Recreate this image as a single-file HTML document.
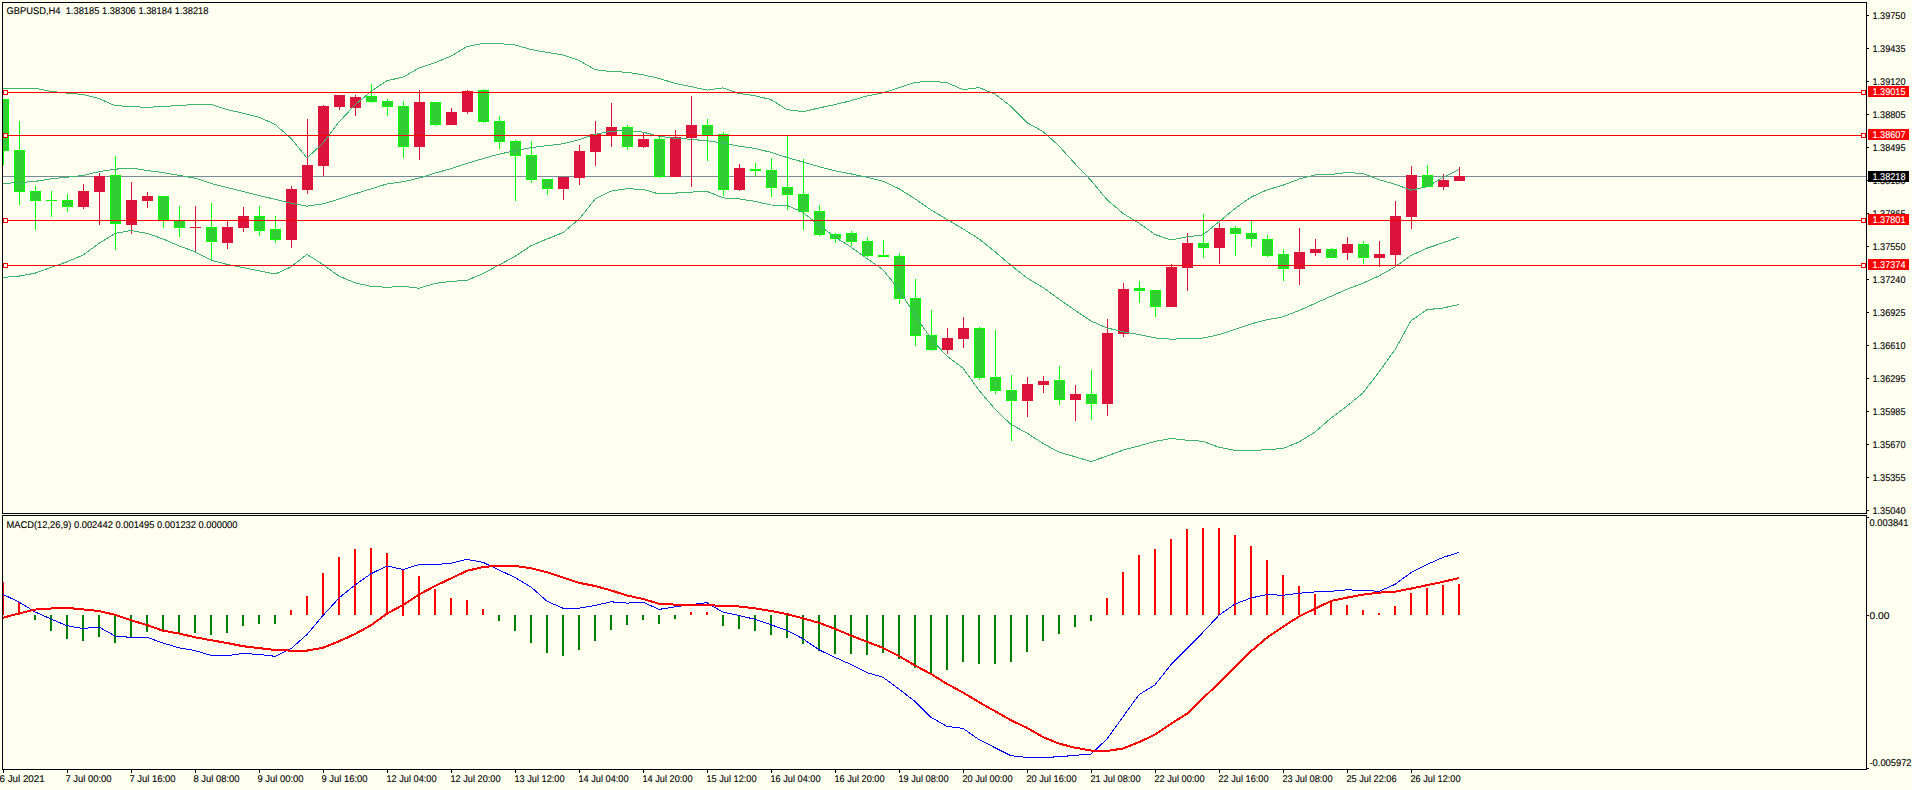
<!DOCTYPE html><html><head><meta charset="utf-8"><style>
html,body{margin:0;padding:0;background:#FFFFF0;width:1912px;height:790px;overflow:hidden}
svg{display:block}
text{font-family:"Liberation Sans", sans-serif;font-size:9.8px;fill:#000;text-rendering:geometricPrecision}
</style></head><body>
<svg width="1912" height="790" viewBox="0 0 1912 790">
<rect x="0" y="0" width="1912" height="790" fill="#FFFFF0"/>
<defs><clipPath id="cm"><rect x="3" y="3" width="1863" height="510"/></clipPath><clipPath id="cd"><rect x="3" y="516" width="1863" height="253"/></clipPath></defs>
<g clip-path="url(#cm)">
<rect x="3" y="176" width="1863" height="1" fill="#778899"/>
<rect x="3" y="99" width="1" height="66" fill="#00FF00"/>
<rect x="-2" y="99" width="11" height="52" fill="#00FF00"/>
<rect x="-1" y="100" width="9" height="50" fill="#32CD32"/>
<rect x="19" y="121" width="1" height="84" fill="#00FF00"/>
<rect x="14" y="150" width="11" height="42" fill="#00FF00"/>
<rect x="15" y="151" width="9" height="40" fill="#32CD32"/>
<rect x="35" y="186" width="1" height="44" fill="#00FF00"/>
<rect x="30" y="191" width="11" height="10" fill="#00FF00"/>
<rect x="31" y="192" width="9" height="8" fill="#32CD32"/>
<rect x="51" y="191" width="1" height="26" fill="#00FF00"/>
<rect x="46" y="200" width="11" height="1" fill="#00FF00"/>
<rect x="67" y="194" width="1" height="18" fill="#00FF00"/>
<rect x="62" y="200" width="11" height="7" fill="#00FF00"/>
<rect x="63" y="201" width="9" height="5" fill="#32CD32"/>
<rect x="83" y="184" width="1" height="25" fill="#DC143C"/>
<rect x="78" y="191" width="11" height="16" fill="#DC143C"/>
<rect x="99" y="173" width="1" height="52" fill="#DC143C"/>
<rect x="94" y="176" width="11" height="16" fill="#DC143C"/>
<rect x="115" y="156" width="1" height="94" fill="#00FF00"/>
<rect x="110" y="175" width="11" height="49" fill="#00FF00"/>
<rect x="111" y="176" width="9" height="47" fill="#32CD32"/>
<rect x="131" y="182" width="1" height="52" fill="#DC143C"/>
<rect x="126" y="200" width="11" height="25" fill="#DC143C"/>
<rect x="147" y="192" width="1" height="16" fill="#DC143C"/>
<rect x="142" y="196" width="11" height="5" fill="#DC143C"/>
<rect x="163" y="196" width="1" height="32" fill="#00FF00"/>
<rect x="158" y="196" width="11" height="24" fill="#00FF00"/>
<rect x="159" y="197" width="9" height="22" fill="#32CD32"/>
<rect x="179" y="206" width="1" height="31" fill="#00FF00"/>
<rect x="174" y="220" width="11" height="8" fill="#00FF00"/>
<rect x="175" y="221" width="9" height="6" fill="#32CD32"/>
<rect x="195" y="206" width="1" height="45" fill="#DC143C"/>
<rect x="190" y="227" width="11" height="1" fill="#DC143C"/>
<rect x="211" y="203" width="1" height="58" fill="#00FF00"/>
<rect x="206" y="227" width="11" height="15" fill="#00FF00"/>
<rect x="207" y="228" width="9" height="13" fill="#32CD32"/>
<rect x="227" y="221" width="1" height="28" fill="#DC143C"/>
<rect x="222" y="227" width="11" height="16" fill="#DC143C"/>
<rect x="243" y="207" width="1" height="25" fill="#DC143C"/>
<rect x="238" y="216" width="11" height="12" fill="#DC143C"/>
<rect x="259" y="206" width="1" height="30" fill="#00FF00"/>
<rect x="254" y="216" width="11" height="15" fill="#00FF00"/>
<rect x="255" y="217" width="9" height="13" fill="#32CD32"/>
<rect x="275" y="216" width="1" height="27" fill="#00FF00"/>
<rect x="270" y="229" width="11" height="11" fill="#00FF00"/>
<rect x="271" y="230" width="9" height="9" fill="#32CD32"/>
<rect x="291" y="186" width="1" height="62" fill="#DC143C"/>
<rect x="286" y="189" width="11" height="51" fill="#DC143C"/>
<rect x="307" y="119" width="1" height="75" fill="#DC143C"/>
<rect x="302" y="165" width="11" height="25" fill="#DC143C"/>
<rect x="323" y="105" width="1" height="71" fill="#DC143C"/>
<rect x="318" y="106" width="11" height="60" fill="#DC143C"/>
<rect x="339" y="95" width="1" height="15" fill="#DC143C"/>
<rect x="334" y="95" width="11" height="12" fill="#DC143C"/>
<rect x="355" y="95" width="1" height="21" fill="#DC143C"/>
<rect x="350" y="97" width="11" height="11" fill="#DC143C"/>
<rect x="371" y="84" width="1" height="19" fill="#00FF00"/>
<rect x="366" y="96" width="11" height="6" fill="#00FF00"/>
<rect x="367" y="97" width="9" height="4" fill="#32CD32"/>
<rect x="387" y="99" width="1" height="17" fill="#00FF00"/>
<rect x="382" y="101" width="11" height="6" fill="#00FF00"/>
<rect x="383" y="102" width="9" height="4" fill="#32CD32"/>
<rect x="403" y="101" width="1" height="57" fill="#00FF00"/>
<rect x="398" y="106" width="11" height="41" fill="#00FF00"/>
<rect x="399" y="107" width="9" height="39" fill="#32CD32"/>
<rect x="419" y="90" width="1" height="70" fill="#DC143C"/>
<rect x="414" y="102" width="11" height="45" fill="#DC143C"/>
<rect x="435" y="102" width="1" height="24" fill="#00FF00"/>
<rect x="430" y="102" width="11" height="23" fill="#00FF00"/>
<rect x="431" y="103" width="9" height="21" fill="#32CD32"/>
<rect x="451" y="108" width="1" height="17" fill="#DC143C"/>
<rect x="446" y="112" width="11" height="13" fill="#DC143C"/>
<rect x="467" y="90" width="1" height="24" fill="#DC143C"/>
<rect x="462" y="91" width="11" height="21" fill="#DC143C"/>
<rect x="483" y="89" width="1" height="34" fill="#00FF00"/>
<rect x="478" y="90" width="11" height="32" fill="#00FF00"/>
<rect x="479" y="91" width="9" height="30" fill="#32CD32"/>
<rect x="499" y="116" width="1" height="33" fill="#00FF00"/>
<rect x="494" y="121" width="11" height="21" fill="#00FF00"/>
<rect x="495" y="122" width="9" height="19" fill="#32CD32"/>
<rect x="515" y="140" width="1" height="61" fill="#00FF00"/>
<rect x="510" y="141" width="11" height="15" fill="#00FF00"/>
<rect x="511" y="142" width="9" height="13" fill="#32CD32"/>
<rect x="531" y="141" width="1" height="42" fill="#00FF00"/>
<rect x="526" y="155" width="11" height="25" fill="#00FF00"/>
<rect x="527" y="156" width="9" height="23" fill="#32CD32"/>
<rect x="547" y="179" width="1" height="16" fill="#00FF00"/>
<rect x="542" y="179" width="11" height="10" fill="#00FF00"/>
<rect x="543" y="180" width="9" height="8" fill="#32CD32"/>
<rect x="563" y="177" width="1" height="23" fill="#DC143C"/>
<rect x="558" y="177" width="11" height="12" fill="#DC143C"/>
<rect x="579" y="145" width="1" height="40" fill="#DC143C"/>
<rect x="574" y="151" width="11" height="27" fill="#DC143C"/>
<rect x="595" y="121" width="1" height="45" fill="#DC143C"/>
<rect x="590" y="134" width="11" height="18" fill="#DC143C"/>
<rect x="611" y="103" width="1" height="44" fill="#DC143C"/>
<rect x="606" y="127" width="11" height="8" fill="#DC143C"/>
<rect x="627" y="125" width="1" height="25" fill="#00FF00"/>
<rect x="622" y="127" width="11" height="20" fill="#00FF00"/>
<rect x="623" y="128" width="9" height="18" fill="#32CD32"/>
<rect x="643" y="133" width="1" height="15" fill="#DC143C"/>
<rect x="638" y="139" width="11" height="8" fill="#DC143C"/>
<rect x="659" y="136" width="1" height="42" fill="#00FF00"/>
<rect x="654" y="139" width="11" height="38" fill="#00FF00"/>
<rect x="655" y="140" width="9" height="36" fill="#32CD32"/>
<rect x="675" y="130" width="1" height="47" fill="#DC143C"/>
<rect x="670" y="137" width="11" height="40" fill="#DC143C"/>
<rect x="691" y="96" width="1" height="91" fill="#DC143C"/>
<rect x="686" y="125" width="11" height="13" fill="#DC143C"/>
<rect x="707" y="119" width="1" height="42" fill="#00FF00"/>
<rect x="702" y="125" width="11" height="10" fill="#00FF00"/>
<rect x="703" y="126" width="9" height="8" fill="#32CD32"/>
<rect x="723" y="132" width="1" height="64" fill="#00FF00"/>
<rect x="718" y="134" width="11" height="56" fill="#00FF00"/>
<rect x="719" y="135" width="9" height="54" fill="#32CD32"/>
<rect x="739" y="164" width="1" height="27" fill="#DC143C"/>
<rect x="734" y="168" width="11" height="22" fill="#DC143C"/>
<rect x="755" y="163" width="1" height="13" fill="#00FF00"/>
<rect x="750" y="169" width="11" height="2" fill="#00FF00"/>
<rect x="771" y="158" width="1" height="39" fill="#00FF00"/>
<rect x="766" y="170" width="11" height="18" fill="#00FF00"/>
<rect x="767" y="171" width="9" height="16" fill="#32CD32"/>
<rect x="787" y="135" width="1" height="75" fill="#00FF00"/>
<rect x="782" y="187" width="11" height="8" fill="#00FF00"/>
<rect x="783" y="188" width="9" height="6" fill="#32CD32"/>
<rect x="803" y="159" width="1" height="71" fill="#00FF00"/>
<rect x="798" y="194" width="11" height="18" fill="#00FF00"/>
<rect x="799" y="195" width="9" height="16" fill="#32CD32"/>
<rect x="819" y="205" width="1" height="31" fill="#00FF00"/>
<rect x="814" y="211" width="11" height="24" fill="#00FF00"/>
<rect x="815" y="212" width="9" height="22" fill="#32CD32"/>
<rect x="835" y="233" width="1" height="10" fill="#00FF00"/>
<rect x="830" y="234" width="11" height="5" fill="#00FF00"/>
<rect x="831" y="235" width="9" height="3" fill="#32CD32"/>
<rect x="851" y="231" width="1" height="15" fill="#00FF00"/>
<rect x="846" y="233" width="11" height="9" fill="#00FF00"/>
<rect x="847" y="234" width="9" height="7" fill="#32CD32"/>
<rect x="867" y="237" width="1" height="20" fill="#00FF00"/>
<rect x="862" y="241" width="11" height="15" fill="#00FF00"/>
<rect x="863" y="242" width="9" height="13" fill="#32CD32"/>
<rect x="883" y="240" width="1" height="17" fill="#00FF00"/>
<rect x="878" y="255" width="11" height="2" fill="#00FF00"/>
<rect x="899" y="253" width="1" height="51" fill="#00FF00"/>
<rect x="894" y="256" width="11" height="43" fill="#00FF00"/>
<rect x="895" y="257" width="9" height="41" fill="#32CD32"/>
<rect x="915" y="279" width="1" height="67" fill="#00FF00"/>
<rect x="910" y="298" width="11" height="38" fill="#00FF00"/>
<rect x="911" y="299" width="9" height="36" fill="#32CD32"/>
<rect x="931" y="310" width="1" height="41" fill="#00FF00"/>
<rect x="926" y="335" width="11" height="15" fill="#00FF00"/>
<rect x="927" y="336" width="9" height="13" fill="#32CD32"/>
<rect x="947" y="328" width="1" height="26" fill="#DC143C"/>
<rect x="942" y="338" width="11" height="12" fill="#DC143C"/>
<rect x="963" y="317" width="1" height="31" fill="#DC143C"/>
<rect x="958" y="328" width="11" height="11" fill="#DC143C"/>
<rect x="979" y="327" width="1" height="53" fill="#00FF00"/>
<rect x="974" y="328" width="11" height="50" fill="#00FF00"/>
<rect x="975" y="329" width="9" height="48" fill="#32CD32"/>
<rect x="995" y="330" width="1" height="64" fill="#00FF00"/>
<rect x="990" y="377" width="11" height="14" fill="#00FF00"/>
<rect x="991" y="378" width="9" height="12" fill="#32CD32"/>
<rect x="1011" y="375" width="1" height="66" fill="#00FF00"/>
<rect x="1006" y="390" width="11" height="11" fill="#00FF00"/>
<rect x="1007" y="391" width="9" height="9" fill="#32CD32"/>
<rect x="1027" y="377" width="1" height="40" fill="#DC143C"/>
<rect x="1022" y="384" width="11" height="17" fill="#DC143C"/>
<rect x="1043" y="376" width="1" height="17" fill="#DC143C"/>
<rect x="1038" y="381" width="11" height="4" fill="#DC143C"/>
<rect x="1059" y="366" width="1" height="39" fill="#00FF00"/>
<rect x="1054" y="380" width="11" height="20" fill="#00FF00"/>
<rect x="1055" y="381" width="9" height="18" fill="#32CD32"/>
<rect x="1075" y="385" width="1" height="36" fill="#DC143C"/>
<rect x="1070" y="394" width="11" height="6" fill="#DC143C"/>
<rect x="1091" y="370" width="1" height="50" fill="#00FF00"/>
<rect x="1086" y="394" width="11" height="10" fill="#00FF00"/>
<rect x="1087" y="395" width="9" height="8" fill="#32CD32"/>
<rect x="1107" y="319" width="1" height="97" fill="#DC143C"/>
<rect x="1102" y="333" width="11" height="71" fill="#DC143C"/>
<rect x="1123" y="283" width="1" height="54" fill="#DC143C"/>
<rect x="1118" y="289" width="11" height="45" fill="#DC143C"/>
<rect x="1139" y="281" width="1" height="22" fill="#00FF00"/>
<rect x="1134" y="288" width="11" height="3" fill="#00FF00"/>
<rect x="1135" y="289" width="9" height="1" fill="#32CD32"/>
<rect x="1155" y="290" width="1" height="27" fill="#00FF00"/>
<rect x="1150" y="290" width="11" height="17" fill="#00FF00"/>
<rect x="1151" y="291" width="9" height="15" fill="#32CD32"/>
<rect x="1171" y="264" width="1" height="43" fill="#DC143C"/>
<rect x="1166" y="267" width="11" height="40" fill="#DC143C"/>
<rect x="1187" y="233" width="1" height="58" fill="#DC143C"/>
<rect x="1182" y="243" width="11" height="25" fill="#DC143C"/>
<rect x="1203" y="214" width="1" height="44" fill="#00FF00"/>
<rect x="1198" y="243" width="11" height="5" fill="#00FF00"/>
<rect x="1199" y="244" width="9" height="3" fill="#32CD32"/>
<rect x="1219" y="223" width="1" height="41" fill="#DC143C"/>
<rect x="1214" y="228" width="11" height="20" fill="#DC143C"/>
<rect x="1235" y="226" width="1" height="30" fill="#00FF00"/>
<rect x="1230" y="228" width="11" height="6" fill="#00FF00"/>
<rect x="1231" y="229" width="9" height="4" fill="#32CD32"/>
<rect x="1251" y="221" width="1" height="26" fill="#00FF00"/>
<rect x="1246" y="233" width="11" height="6" fill="#00FF00"/>
<rect x="1247" y="234" width="9" height="4" fill="#32CD32"/>
<rect x="1267" y="235" width="1" height="22" fill="#00FF00"/>
<rect x="1262" y="239" width="11" height="17" fill="#00FF00"/>
<rect x="1263" y="240" width="9" height="15" fill="#32CD32"/>
<rect x="1283" y="249" width="1" height="32" fill="#00FF00"/>
<rect x="1278" y="254" width="11" height="15" fill="#00FF00"/>
<rect x="1279" y="255" width="9" height="13" fill="#32CD32"/>
<rect x="1299" y="228" width="1" height="57" fill="#DC143C"/>
<rect x="1294" y="252" width="11" height="17" fill="#DC143C"/>
<rect x="1315" y="239" width="1" height="17" fill="#DC143C"/>
<rect x="1310" y="249" width="11" height="4" fill="#DC143C"/>
<rect x="1331" y="248" width="1" height="10" fill="#00FF00"/>
<rect x="1326" y="249" width="11" height="9" fill="#00FF00"/>
<rect x="1327" y="250" width="9" height="7" fill="#32CD32"/>
<rect x="1347" y="237" width="1" height="23" fill="#DC143C"/>
<rect x="1342" y="244" width="11" height="9" fill="#DC143C"/>
<rect x="1363" y="241" width="1" height="23" fill="#00FF00"/>
<rect x="1358" y="244" width="11" height="14" fill="#00FF00"/>
<rect x="1359" y="245" width="9" height="12" fill="#32CD32"/>
<rect x="1379" y="241" width="1" height="26" fill="#DC143C"/>
<rect x="1374" y="254" width="11" height="4" fill="#DC143C"/>
<rect x="1395" y="201" width="1" height="64" fill="#DC143C"/>
<rect x="1390" y="216" width="11" height="39" fill="#DC143C"/>
<rect x="1411" y="166" width="1" height="63" fill="#DC143C"/>
<rect x="1406" y="175" width="11" height="42" fill="#DC143C"/>
<rect x="1427" y="165" width="1" height="22" fill="#00FF00"/>
<rect x="1422" y="175" width="11" height="12" fill="#00FF00"/>
<rect x="1423" y="176" width="9" height="10" fill="#32CD32"/>
<rect x="1443" y="174" width="1" height="16" fill="#DC143C"/>
<rect x="1438" y="180" width="11" height="7" fill="#DC143C"/>
<rect x="1459" y="167" width="1" height="14" fill="#DC143C"/>
<rect x="1454" y="176" width="11" height="5" fill="#DC143C"/>
<polyline points="3,88.2 19,88.2 35,88.2 51,91.4 67,93.1 83,94.4 99,98.6 115,105.6 131,106.6 147,107.3 163,106.5 179,105.5 195,104.5 211,104.4 227,109.6 243,113.2 259,117.2 275,124.4 291,138.3 307,158.0 323,143.1 339,122.0 355,104.9 371,91.5 387,80.6 403,77.2 419,67.9 435,62.8 451,56.0 467,46.6 483,43.4 499,43.5 515,45.0 531,49.5 547,52.4 563,54.9 579,60.3 595,69.7 611,71.6 627,72.2 643,74.8 659,78.4 675,83.3 691,86.6 707,90.1 723,87.9 739,93.5 755,95.7 771,99.6 787,109.7 803,111.6 819,108.0 835,104.5 851,100.7 867,95.9 883,92.8 899,87.7 915,82.4 931,81.1 947,82.7 963,89.6 979,87.6 995,94.1 1011,106.4 1027,122.7 1043,131.5 1059,145.9 1075,163.7 1091,180.4 1107,199.7 1123,213.4 1139,223.1 1155,234.5 1171,239.9 1187,236.9 1203,234.9 1219,221.8 1235,208.5 1251,197.2 1267,189.9 1283,185.2 1299,179.1 1315,174.9 1331,174.5 1347,172.5 1363,173.5 1379,179.7 1395,184.2 1411,190.2 1427,186.7 1443,177.5 1459,169.5" fill="none" stroke="#3CB371" stroke-width="1" shape-rendering="crispEdges"/>
<polyline points="3,183.4 19,182.6 35,181.4 51,178.9 67,177.2 83,175.4 99,171.7 115,169.2 131,168.0 147,170.4 163,172.6 179,175.4 195,178.1 211,183.4 227,187.6 243,191.6 259,195.5 275,199.3 291,203.2 307,206.2 323,203.9 339,199.1 355,193.8 371,188.9 387,183.9 403,181.8 419,178.1 435,173.1 451,168.7 467,163.4 483,158.6 499,154.2 515,150.7 531,147.6 547,145.7 563,143.8 579,139.8 595,134.4 611,131.3 627,130.4 643,132.1 659,136.2 675,138.2 691,139.3 707,140.8 723,142.9 739,146.2 755,148.5 771,152.3 787,157.5 803,162.0 819,166.7 835,170.8 851,173.9 867,177.2 883,181.2 899,188.7 915,198.8 931,209.9 947,219.4 963,228.9 979,238.9 995,251.7 1011,265.4 1027,277.9 1043,287.4 1059,299.1 1075,310.2 1091,321.0 1107,327.9 1123,331.8 1139,334.6 1155,337.9 1171,339.2 1187,338.6 1203,338.1 1219,334.6 1235,329.4 1251,323.9 1267,319.8 1283,316.9 1299,310.6 1315,303.4 1331,296.3 1347,289.3 1363,283.1 1379,275.9 1395,266.9 1411,255.5 1427,248.2 1443,242.8 1459,237.0" fill="none" stroke="#3CB371" stroke-width="1" shape-rendering="crispEdges"/>
<polyline points="3,277.4 19,276.1 35,273.2 51,267.4 67,261.8 83,255.1 99,243.4 115,233.4 131,230.5 147,233.4 163,238.9 179,245.9 195,251.8 211,260.2 227,264.4 243,267.7 259,270.7 275,274.1 291,266.9 307,254.3 323,264.7 339,276.1 355,282.8 371,286.4 387,287.3 403,286.3 419,288.2 435,283.4 451,281.4 467,280.3 483,273.7 499,265.0 515,256.4 531,245.7 547,239.0 563,232.6 579,219.2 595,199.2 611,191.1 627,188.7 643,189.4 659,194.0 675,193.1 691,192.1 707,191.4 723,197.9 739,198.9 755,201.3 771,205.0 787,205.3 803,212.4 819,225.3 835,237.1 851,247.1 867,258.6 883,269.7 899,289.6 915,315.1 931,338.7 947,356.2 963,368.2 979,390.3 995,409.2 1011,424.5 1027,433.1 1043,443.4 1059,452.2 1075,456.7 1091,461.6 1107,456.1 1123,450.1 1139,446.0 1155,441.4 1171,438.5 1187,440.2 1203,441.3 1219,447.3 1235,450.4 1251,450.6 1267,449.7 1283,448.5 1299,442.0 1315,432.0 1331,418.1 1347,406.1 1363,392.8 1379,372.0 1395,349.7 1411,320.8 1427,309.7 1443,308.0 1459,304.5" fill="none" stroke="#3CB371" stroke-width="1" shape-rendering="crispEdges"/>
<rect x="3" y="92" width="1863" height="1" fill="#FF0000"/>
<rect x="3.5" y="90.5" width="4" height="4" fill="#FFFFFF" stroke="#FF0000" stroke-width="1" shape-rendering="crispEdges"/>
<rect x="1861.5" y="90.5" width="4" height="4" fill="#FFFFFF" stroke="#FF0000" stroke-width="1" shape-rendering="crispEdges"/>
<rect x="3" y="135" width="1863" height="1" fill="#FF0000"/>
<rect x="3.5" y="133.5" width="4" height="4" fill="#FFFFFF" stroke="#FF0000" stroke-width="1" shape-rendering="crispEdges"/>
<rect x="1861.5" y="133.5" width="4" height="4" fill="#FFFFFF" stroke="#FF0000" stroke-width="1" shape-rendering="crispEdges"/>
<rect x="3" y="220" width="1863" height="1" fill="#FF0000"/>
<rect x="3.5" y="218.5" width="4" height="4" fill="#FFFFFF" stroke="#FF0000" stroke-width="1" shape-rendering="crispEdges"/>
<rect x="1861.5" y="218.5" width="4" height="4" fill="#FFFFFF" stroke="#FF0000" stroke-width="1" shape-rendering="crispEdges"/>
<rect x="3" y="265" width="1863" height="1" fill="#FF0000"/>
<rect x="3.5" y="263.5" width="4" height="4" fill="#FFFFFF" stroke="#FF0000" stroke-width="1" shape-rendering="crispEdges"/>
<rect x="1861.5" y="263.5" width="4" height="4" fill="#FFFFFF" stroke="#FF0000" stroke-width="1" shape-rendering="crispEdges"/>
</g>
<text x="6.50" y="14" textLength="202.00" lengthAdjust="spacingAndGlyphs" style="fill:#000;stroke:#000;stroke-width:0.12px">GBPUSD,H4&#160;&#160;1.38185&#160;1.38306&#160;1.38184&#160;1.38218</text>
<rect x="2.5" y="2.5" width="1864" height="511" fill="none" stroke="#000" stroke-width="1" shape-rendering="crispEdges"/>
<rect x="2.5" y="515.5" width="1864" height="254" fill="none" stroke="#000" stroke-width="1" shape-rendering="crispEdges"/>
<rect x="1867" y="15" width="2" height="1" fill="#000"/>
<text x="1872.50" y="19" textLength="33.00" lengthAdjust="spacingAndGlyphs" style="fill:#000;stroke:#000;stroke-width:0.12px">1.39750</text>
<rect x="1867" y="48" width="2" height="1" fill="#000"/>
<text x="1872.50" y="52" textLength="33.00" lengthAdjust="spacingAndGlyphs" style="fill:#000;stroke:#000;stroke-width:0.12px">1.39435</text>
<rect x="1867" y="81" width="2" height="1" fill="#000"/>
<text x="1872.50" y="85" textLength="33.00" lengthAdjust="spacingAndGlyphs" style="fill:#000;stroke:#000;stroke-width:0.12px">1.39120</text>
<rect x="1867" y="114" width="2" height="1" fill="#000"/>
<text x="1872.50" y="118" textLength="33.00" lengthAdjust="spacingAndGlyphs" style="fill:#000;stroke:#000;stroke-width:0.12px">1.38805</text>
<rect x="1867" y="147" width="2" height="1" fill="#000"/>
<text x="1872.50" y="151" textLength="33.00" lengthAdjust="spacingAndGlyphs" style="fill:#000;stroke:#000;stroke-width:0.12px">1.38495</text>
<rect x="1867" y="180" width="2" height="1" fill="#000"/>
<text x="1872.50" y="184" textLength="33.00" lengthAdjust="spacingAndGlyphs" style="fill:#000;stroke:#000;stroke-width:0.12px">1.38180</text>
<rect x="1867" y="213" width="2" height="1" fill="#000"/>
<text x="1872.50" y="217" textLength="33.00" lengthAdjust="spacingAndGlyphs" style="fill:#000;stroke:#000;stroke-width:0.12px">1.37865</text>
<rect x="1867" y="246" width="2" height="1" fill="#000"/>
<text x="1872.50" y="250" textLength="33.00" lengthAdjust="spacingAndGlyphs" style="fill:#000;stroke:#000;stroke-width:0.12px">1.37550</text>
<rect x="1867" y="279" width="2" height="1" fill="#000"/>
<text x="1872.50" y="283" textLength="33.00" lengthAdjust="spacingAndGlyphs" style="fill:#000;stroke:#000;stroke-width:0.12px">1.37240</text>
<rect x="1867" y="312" width="2" height="1" fill="#000"/>
<text x="1872.50" y="316" textLength="33.00" lengthAdjust="spacingAndGlyphs" style="fill:#000;stroke:#000;stroke-width:0.12px">1.36925</text>
<rect x="1867" y="345" width="2" height="1" fill="#000"/>
<text x="1872.50" y="349" textLength="33.00" lengthAdjust="spacingAndGlyphs" style="fill:#000;stroke:#000;stroke-width:0.12px">1.36610</text>
<rect x="1867" y="378" width="2" height="1" fill="#000"/>
<text x="1872.50" y="382" textLength="33.00" lengthAdjust="spacingAndGlyphs" style="fill:#000;stroke:#000;stroke-width:0.12px">1.36295</text>
<rect x="1867" y="411" width="2" height="1" fill="#000"/>
<text x="1872.50" y="415" textLength="33.00" lengthAdjust="spacingAndGlyphs" style="fill:#000;stroke:#000;stroke-width:0.12px">1.35985</text>
<rect x="1867" y="444" width="2" height="1" fill="#000"/>
<text x="1872.50" y="448" textLength="33.00" lengthAdjust="spacingAndGlyphs" style="fill:#000;stroke:#000;stroke-width:0.12px">1.35670</text>
<rect x="1867" y="477" width="2" height="1" fill="#000"/>
<text x="1872.50" y="481" textLength="33.00" lengthAdjust="spacingAndGlyphs" style="fill:#000;stroke:#000;stroke-width:0.12px">1.35355</text>
<rect x="1867" y="510" width="2" height="1" fill="#000"/>
<text x="1872.50" y="514" textLength="33.00" lengthAdjust="spacingAndGlyphs" style="fill:#000;stroke:#000;stroke-width:0.12px">1.35040</text>
<rect x="1868" y="171" width="41" height="11" fill="#000"/>
<text x="1872.50" y="180" textLength="33.00" lengthAdjust="spacingAndGlyphs" style="fill:#fff;stroke:#fff;stroke-width:0.12px">1.38218</text>
<rect x="1868" y="86" width="41" height="11" fill="#FF0000"/>
<text x="1872.50" y="95" textLength="33.00" lengthAdjust="spacingAndGlyphs" style="fill:#fff;stroke:#fff;stroke-width:0.12px">1.39015</text>
<rect x="1868" y="129" width="41" height="11" fill="#FF0000"/>
<text x="1872.50" y="138" textLength="33.00" lengthAdjust="spacingAndGlyphs" style="fill:#fff;stroke:#fff;stroke-width:0.12px">1.38607</text>
<rect x="1868" y="214" width="41" height="11" fill="#FF0000"/>
<text x="1872.50" y="223" textLength="33.00" lengthAdjust="spacingAndGlyphs" style="fill:#fff;stroke:#fff;stroke-width:0.12px">1.37801</text>
<rect x="1868" y="259" width="41" height="11" fill="#FF0000"/>
<text x="1872.50" y="268" textLength="33.00" lengthAdjust="spacingAndGlyphs" style="fill:#fff;stroke:#fff;stroke-width:0.12px">1.37374</text>
<g clip-path="url(#cd)">
<rect x="2" y="582" width="2" height="33" fill="#FF0000"/>
<rect x="18" y="602" width="2" height="13" fill="#FF0000"/>
<rect x="34" y="615" width="2" height="5" fill="#008000"/>
<rect x="50" y="615" width="2" height="16" fill="#008000"/>
<rect x="66" y="615" width="2" height="24" fill="#008000"/>
<rect x="82" y="615" width="2" height="26" fill="#008000"/>
<rect x="98" y="615" width="2" height="22" fill="#008000"/>
<rect x="114" y="615" width="2" height="28" fill="#008000"/>
<rect x="130" y="615" width="2" height="22" fill="#008000"/>
<rect x="146" y="615" width="2" height="17" fill="#008000"/>
<rect x="162" y="615" width="2" height="17" fill="#008000"/>
<rect x="178" y="615" width="2" height="18" fill="#008000"/>
<rect x="194" y="615" width="2" height="18" fill="#008000"/>
<rect x="210" y="615" width="2" height="20" fill="#008000"/>
<rect x="226" y="615" width="2" height="18" fill="#008000"/>
<rect x="242" y="615" width="2" height="11" fill="#008000"/>
<rect x="258" y="615" width="2" height="9" fill="#008000"/>
<rect x="274" y="615" width="2" height="9" fill="#008000"/>
<rect x="290" y="610" width="2" height="5" fill="#FF0000"/>
<rect x="306" y="596" width="2" height="19" fill="#FF0000"/>
<rect x="322" y="573" width="2" height="42" fill="#FF0000"/>
<rect x="338" y="557" width="2" height="58" fill="#FF0000"/>
<rect x="354" y="549" width="2" height="66" fill="#FF0000"/>
<rect x="370" y="548" width="2" height="67" fill="#FF0000"/>
<rect x="386" y="553" width="2" height="62" fill="#FF0000"/>
<rect x="402" y="570" width="2" height="46" fill="#FF0000"/>
<rect x="418" y="576" width="2" height="39" fill="#FF0000"/>
<rect x="434" y="589" width="2" height="26" fill="#FF0000"/>
<rect x="450" y="598" width="2" height="17" fill="#FF0000"/>
<rect x="466" y="600" width="2" height="15" fill="#FF0000"/>
<rect x="482" y="609" width="2" height="6" fill="#FF0000"/>
<rect x="498" y="615" width="2" height="6" fill="#008000"/>
<rect x="514" y="615" width="2" height="16" fill="#008000"/>
<rect x="530" y="615" width="2" height="28" fill="#008000"/>
<rect x="546" y="615" width="2" height="38" fill="#008000"/>
<rect x="562" y="615" width="2" height="41" fill="#008000"/>
<rect x="578" y="615" width="2" height="35" fill="#008000"/>
<rect x="594" y="615" width="2" height="26" fill="#008000"/>
<rect x="610" y="615" width="2" height="15" fill="#008000"/>
<rect x="626" y="615" width="2" height="10" fill="#008000"/>
<rect x="642" y="615" width="2" height="5" fill="#008000"/>
<rect x="658" y="615" width="2" height="9" fill="#008000"/>
<rect x="674" y="615" width="2" height="4" fill="#008000"/>
<rect x="690" y="612" width="2" height="3" fill="#FF0000"/>
<rect x="706" y="612" width="2" height="3" fill="#FF0000"/>
<rect x="722" y="615" width="2" height="11" fill="#008000"/>
<rect x="738" y="615" width="2" height="14" fill="#008000"/>
<rect x="754" y="615" width="2" height="16" fill="#008000"/>
<rect x="770" y="615" width="2" height="20" fill="#008000"/>
<rect x="786" y="615" width="2" height="23" fill="#008000"/>
<rect x="802" y="615" width="2" height="29" fill="#008000"/>
<rect x="818" y="615" width="2" height="36" fill="#008000"/>
<rect x="834" y="615" width="2" height="39" fill="#008000"/>
<rect x="850" y="615" width="2" height="39" fill="#008000"/>
<rect x="866" y="615" width="2" height="40" fill="#008000"/>
<rect x="882" y="615" width="2" height="38" fill="#008000"/>
<rect x="898" y="615" width="2" height="44" fill="#008000"/>
<rect x="914" y="615" width="2" height="53" fill="#008000"/>
<rect x="930" y="615" width="2" height="58" fill="#008000"/>
<rect x="946" y="615" width="2" height="55" fill="#008000"/>
<rect x="962" y="615" width="2" height="47" fill="#008000"/>
<rect x="978" y="615" width="2" height="49" fill="#008000"/>
<rect x="994" y="615" width="2" height="49" fill="#008000"/>
<rect x="1010" y="615" width="2" height="47" fill="#008000"/>
<rect x="1026" y="615" width="2" height="37" fill="#008000"/>
<rect x="1042" y="615" width="2" height="26" fill="#008000"/>
<rect x="1058" y="615" width="2" height="19" fill="#008000"/>
<rect x="1074" y="615" width="2" height="12" fill="#008000"/>
<rect x="1090" y="615" width="2" height="6" fill="#008000"/>
<rect x="1106" y="598" width="2" height="17" fill="#FF0000"/>
<rect x="1122" y="572" width="2" height="43" fill="#FF0000"/>
<rect x="1138" y="555" width="2" height="60" fill="#FF0000"/>
<rect x="1154" y="549" width="2" height="66" fill="#FF0000"/>
<rect x="1170" y="539" width="2" height="76" fill="#FF0000"/>
<rect x="1186" y="529" width="2" height="86" fill="#FF0000"/>
<rect x="1202" y="528" width="2" height="87" fill="#FF0000"/>
<rect x="1218" y="528" width="2" height="87" fill="#FF0000"/>
<rect x="1234" y="535" width="2" height="80" fill="#FF0000"/>
<rect x="1250" y="546" width="2" height="69" fill="#FF0000"/>
<rect x="1266" y="560" width="2" height="55" fill="#FF0000"/>
<rect x="1282" y="575" width="2" height="40" fill="#FF0000"/>
<rect x="1298" y="586" width="2" height="29" fill="#FF0000"/>
<rect x="1314" y="594" width="2" height="21" fill="#FF0000"/>
<rect x="1330" y="601" width="2" height="14" fill="#FF0000"/>
<rect x="1346" y="605" width="2" height="10" fill="#FF0000"/>
<rect x="1362" y="610" width="2" height="5" fill="#FF0000"/>
<rect x="1378" y="613" width="2" height="2" fill="#FF0000"/>
<rect x="1394" y="606" width="2" height="9" fill="#FF0000"/>
<rect x="1410" y="593" width="2" height="22" fill="#FF0000"/>
<rect x="1426" y="588" width="2" height="27" fill="#FF0000"/>
<rect x="1442" y="585" width="2" height="30" fill="#FF0000"/>
<rect x="1458" y="584" width="2" height="31" fill="#FF0000"/>
<polyline points="3,594.4 19,602.0 35,611.9 51,619.0 67,625.7 83,628.5 99,627.0 115,636.0 131,637.4 147,637.3 163,643.0 179,647.8 195,650.6 211,655.4 227,655.7 243,653.5 259,654.4 275,656.3 291,648.7 307,634.5 323,615.5 339,598.0 355,585.0 371,573.7 387,566.0 403,569.5 419,564.6 435,564.6 451,563.2 467,559.4 483,562.3 499,570.0 515,577.5 531,587.0 547,601.2 563,608.2 579,608.2 595,605.4 611,601.8 627,603.1 643,602.2 659,609.4 675,606.9 691,604.6 707,602.7 723,612.2 739,615.5 755,619.3 771,624.8 787,630.4 803,638.8 819,649.8 835,657.4 851,664.5 867,672.6 883,677.3 899,689.0 915,701.5 931,717.3 947,726.4 963,728.4 979,739.6 995,747.7 1011,755.7 1027,757.4 1043,757.4 1059,756.8 1075,755.3 1091,754.1 1107,739.0 1123,716.8 1139,694.7 1155,684.8 1171,664.6 1187,648.5 1203,632.3 1219,615.2 1235,604.0 1251,598.0 1267,594.5 1283,595.3 1299,593.3 1315,591.9 1331,591.3 1347,589.8 1363,590.4 1379,591.3 1395,584.4 1411,572.6 1427,564.5 1443,557.4 1459,552.4" fill="none" stroke="#0000FF" stroke-width="1" shape-rendering="crispEdges"/>
<polyline points="3,617.7 19,613.4 35,609.6 51,608.5 67,607.9 83,609.4 99,611.0 115,614.8 131,620.3 147,625.0 163,630.7 179,633.5 195,637.3 211,640.2 227,643.0 243,646.2 259,648.1 275,650.0 291,650.6 307,650.6 323,647.8 339,641.3 355,634.0 371,625.3 387,613.6 403,605.0 419,594.6 435,586.0 451,578.4 467,570.8 483,567.0 499,565.7 515,566.0 531,568.2 547,572.2 563,577.5 579,582.8 595,586.0 611,590.4 627,595.5 643,599.0 659,603.7 675,604.6 691,604.6 707,605.0 723,606.0 739,606.5 755,608.3 771,611.0 787,614.1 803,618.4 819,622.8 835,628.9 851,635.5 867,641.8 883,647.9 899,656.0 915,665.5 931,674.0 947,683.9 963,692.6 979,702.1 995,711.2 1011,720.3 1027,727.8 1043,737.1 1059,743.6 1075,747.7 1091,750.5 1107,751.0 1123,748.5 1139,742.2 1155,734.6 1171,723.8 1187,713.7 1203,698.2 1219,683.0 1235,666.8 1251,651.2 1267,637.7 1283,626.7 1299,616.5 1315,608.7 1331,601.0 1347,597.6 1363,594.6 1379,592.6 1395,591.7 1411,588.6 1427,585.2 1443,581.8 1459,578.1" fill="none" stroke="#FF0000" stroke-width="2" shape-rendering="crispEdges"/>
</g>
<text x="6.50" y="528" textLength="231.00" lengthAdjust="spacingAndGlyphs" style="fill:#000;stroke:#000;stroke-width:0.12px">MACD(12,26,9)&#160;0.002442&#160;0.001495&#160;0.001232&#160;0.000000</text>
<rect x="1867" y="517" width="2" height="1" fill="#000"/>
<text x="1869.50" y="526" textLength="39.00" lengthAdjust="spacingAndGlyphs" style="fill:#000;stroke:#000;stroke-width:0.12px">0.003841</text>
<rect x="1867" y="615" width="2" height="1" fill="#000"/>
<text x="1869.50" y="619" textLength="20.00" lengthAdjust="spacingAndGlyphs" style="fill:#000;stroke:#000;stroke-width:0.12px">0.00</text>
<rect x="1867" y="768" width="2" height="1" fill="#000"/>
<text x="1869.50" y="766" textLength="42.00" lengthAdjust="spacingAndGlyphs" style="fill:#000;stroke:#000;stroke-width:0.12px">-0.005972</text>
<rect x="3" y="770" width="1" height="3" fill="#000"/>
<text x="-0.50" y="782" textLength="45.18" lengthAdjust="spacingAndGlyphs" style="fill:#000;stroke:#000;stroke-width:0.12px">6&#160;Jul&#160;2021</text>
<rect x="67" y="770" width="1" height="3" fill="#000"/>
<text x="65.50" y="782" textLength="46.00" lengthAdjust="spacingAndGlyphs" style="fill:#000;stroke:#000;stroke-width:0.12px">7&#160;Jul&#160;00:00</text>
<rect x="131" y="770" width="1" height="3" fill="#000"/>
<text x="129.50" y="782" textLength="46.00" lengthAdjust="spacingAndGlyphs" style="fill:#000;stroke:#000;stroke-width:0.12px">7&#160;Jul&#160;16:00</text>
<rect x="195" y="770" width="1" height="3" fill="#000"/>
<text x="193.50" y="782" textLength="46.00" lengthAdjust="spacingAndGlyphs" style="fill:#000;stroke:#000;stroke-width:0.12px">8&#160;Jul&#160;08:00</text>
<rect x="259" y="770" width="1" height="3" fill="#000"/>
<text x="257.50" y="782" textLength="46.00" lengthAdjust="spacingAndGlyphs" style="fill:#000;stroke:#000;stroke-width:0.12px">9&#160;Jul&#160;00:00</text>
<rect x="323" y="770" width="1" height="3" fill="#000"/>
<text x="321.50" y="782" textLength="46.00" lengthAdjust="spacingAndGlyphs" style="fill:#000;stroke:#000;stroke-width:0.12px">9&#160;Jul&#160;16:00</text>
<rect x="387" y="770" width="1" height="3" fill="#000"/>
<text x="386.50" y="782" textLength="50.00" lengthAdjust="spacingAndGlyphs" style="fill:#000;stroke:#000;stroke-width:0.12px">12&#160;Jul&#160;04:00</text>
<rect x="451" y="770" width="1" height="3" fill="#000"/>
<text x="450.50" y="782" textLength="50.00" lengthAdjust="spacingAndGlyphs" style="fill:#000;stroke:#000;stroke-width:0.12px">12&#160;Jul&#160;20:00</text>
<rect x="515" y="770" width="1" height="3" fill="#000"/>
<text x="514.50" y="782" textLength="50.00" lengthAdjust="spacingAndGlyphs" style="fill:#000;stroke:#000;stroke-width:0.12px">13&#160;Jul&#160;12:00</text>
<rect x="579" y="770" width="1" height="3" fill="#000"/>
<text x="578.50" y="782" textLength="50.00" lengthAdjust="spacingAndGlyphs" style="fill:#000;stroke:#000;stroke-width:0.12px">14&#160;Jul&#160;04:00</text>
<rect x="643" y="770" width="1" height="3" fill="#000"/>
<text x="642.50" y="782" textLength="50.00" lengthAdjust="spacingAndGlyphs" style="fill:#000;stroke:#000;stroke-width:0.12px">14&#160;Jul&#160;20:00</text>
<rect x="707" y="770" width="1" height="3" fill="#000"/>
<text x="706.50" y="782" textLength="50.00" lengthAdjust="spacingAndGlyphs" style="fill:#000;stroke:#000;stroke-width:0.12px">15&#160;Jul&#160;12:00</text>
<rect x="771" y="770" width="1" height="3" fill="#000"/>
<text x="770.50" y="782" textLength="50.00" lengthAdjust="spacingAndGlyphs" style="fill:#000;stroke:#000;stroke-width:0.12px">16&#160;Jul&#160;04:00</text>
<rect x="835" y="770" width="1" height="3" fill="#000"/>
<text x="834.50" y="782" textLength="50.00" lengthAdjust="spacingAndGlyphs" style="fill:#000;stroke:#000;stroke-width:0.12px">16&#160;Jul&#160;20:00</text>
<rect x="899" y="770" width="1" height="3" fill="#000"/>
<text x="898.50" y="782" textLength="50.00" lengthAdjust="spacingAndGlyphs" style="fill:#000;stroke:#000;stroke-width:0.12px">19&#160;Jul&#160;08:00</text>
<rect x="963" y="770" width="1" height="3" fill="#000"/>
<text x="962.50" y="782" textLength="50.00" lengthAdjust="spacingAndGlyphs" style="fill:#000;stroke:#000;stroke-width:0.12px">20&#160;Jul&#160;00:00</text>
<rect x="1027" y="770" width="1" height="3" fill="#000"/>
<text x="1026.50" y="782" textLength="50.00" lengthAdjust="spacingAndGlyphs" style="fill:#000;stroke:#000;stroke-width:0.12px">20&#160;Jul&#160;16:00</text>
<rect x="1091" y="770" width="1" height="3" fill="#000"/>
<text x="1090.50" y="782" textLength="50.00" lengthAdjust="spacingAndGlyphs" style="fill:#000;stroke:#000;stroke-width:0.12px">21&#160;Jul&#160;08:00</text>
<rect x="1155" y="770" width="1" height="3" fill="#000"/>
<text x="1154.50" y="782" textLength="50.00" lengthAdjust="spacingAndGlyphs" style="fill:#000;stroke:#000;stroke-width:0.12px">22&#160;Jul&#160;00:00</text>
<rect x="1219" y="770" width="1" height="3" fill="#000"/>
<text x="1218.50" y="782" textLength="50.00" lengthAdjust="spacingAndGlyphs" style="fill:#000;stroke:#000;stroke-width:0.12px">22&#160;Jul&#160;16:00</text>
<rect x="1283" y="770" width="1" height="3" fill="#000"/>
<text x="1282.50" y="782" textLength="50.00" lengthAdjust="spacingAndGlyphs" style="fill:#000;stroke:#000;stroke-width:0.12px">23&#160;Jul&#160;08:00</text>
<rect x="1347" y="770" width="1" height="3" fill="#000"/>
<text x="1346.50" y="782" textLength="50.00" lengthAdjust="spacingAndGlyphs" style="fill:#000;stroke:#000;stroke-width:0.12px">25&#160;Jul&#160;22:06</text>
<rect x="1411" y="770" width="1" height="3" fill="#000"/>
<text x="1410.50" y="782" textLength="50.00" lengthAdjust="spacingAndGlyphs" style="fill:#000;stroke:#000;stroke-width:0.12px">26&#160;Jul&#160;12:00</text>
</svg></body></html>
